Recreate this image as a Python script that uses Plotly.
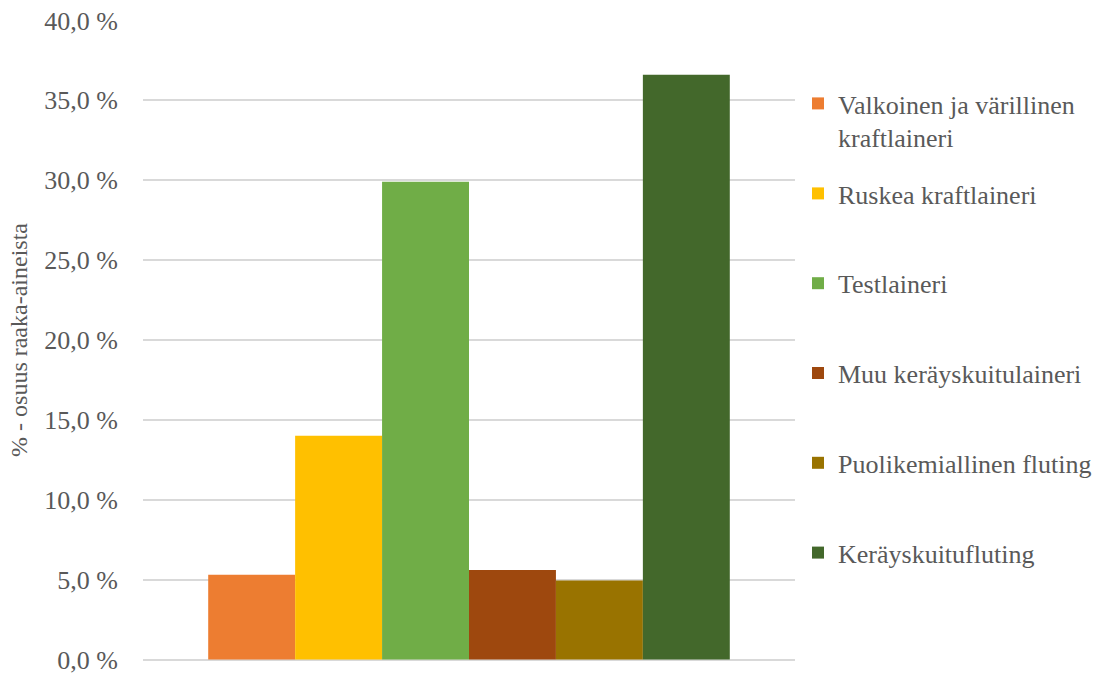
import plotly.graph_objects as go

# Raw-material shares (%) by grade
series_names = [
    "Valkoinen ja värillinen<br>kraftlaineri",
    "Ruskea kraftlaineri",
    "Testlaineri",
    "Muu keräyskuitulaineri",
    "Puolikemiallinen fluting",
    "Keräyskuitufluting",
]
series_values = [5.3, 14.0, 29.9, 5.6, 4.95, 36.6]
series_colors = ["#ED7D31", "#FFC000", "#70AD47", "#9E480E", "#997300", "#43682B"]

tick_values = [0, 5, 10, 15, 20, 25, 30, 35, 40]
tick_labels = ["0,0 %", "5,0 %", "10,0 %", "15,0 %", "20,0 %",
               "25,0 %", "30,0 %", "35,0 %", "40,0 %"]

FONT = "Liberation Serif, Times New Roman, serif"
TEXT_COLOR = "#595959"
GRID_COLOR = "#D9D9D9"

fig = go.Figure()
for i, (name, val, col) in enumerate(zip(series_names, series_values, series_colors)):
    fig.add_trace(go.Bar(
        x=[""], y=[val], name=name,
        marker=dict(color=col, line=dict(width=0)),
        legendgroup=f"g{i}",
        # the two-line entry sits in its own legend so the rest keep even spacing
        legend="legend" if i == 0 else "legend2",
    ))

legend_common = dict(
    xref="container", yref="container",
    x=798 / 1101, xanchor="left", yanchor="top",
    font=dict(family=FONT, size=26, color=TEXT_COLOR),
    valign="top", bgcolor="rgba(0,0,0,0)", maxheight=1,
)

fig.update_layout(
    width=1101, height=675,
    barmode="group", bargap=0.2, bargroupgap=0,
    plot_bgcolor="white", paper_bgcolor="white",
    margin=dict(l=143, r=306, t=20, b=15, autoexpand=False),
    font=dict(family=FONT, color=TEXT_COLOR, size=26),
    showlegend=True,
    legend=dict(legend_common, y=1 - 80 / 675),
    legend2=dict(legend_common, y=1 - 170 / 675, tracegroupgap=53),
    xaxis=dict(showticklabels=False, showgrid=False, zeroline=False,
               showline=False, ticks=""),
    yaxis=dict(
        range=[-0.03, 40.03], tickvals=tick_values, ticktext=tick_labels,
        showgrid=True, gridcolor=GRID_COLOR, gridwidth=1.5,
        zeroline=True, zerolinecolor=GRID_COLOR, zerolinewidth=1.5,
        showline=False, ticks="",
        ticklabelstandoff=24, ticklabeloverflow="allow",
        tickfont=dict(family=FONT, size=26, color=TEXT_COLOR),
        title=dict(text="% - osuus raaka-aineista",
                   font=dict(family=FONT, size=24, color=TEXT_COLOR),
                   standoff=9),
    ),
)

fig.write_html("out.html")
